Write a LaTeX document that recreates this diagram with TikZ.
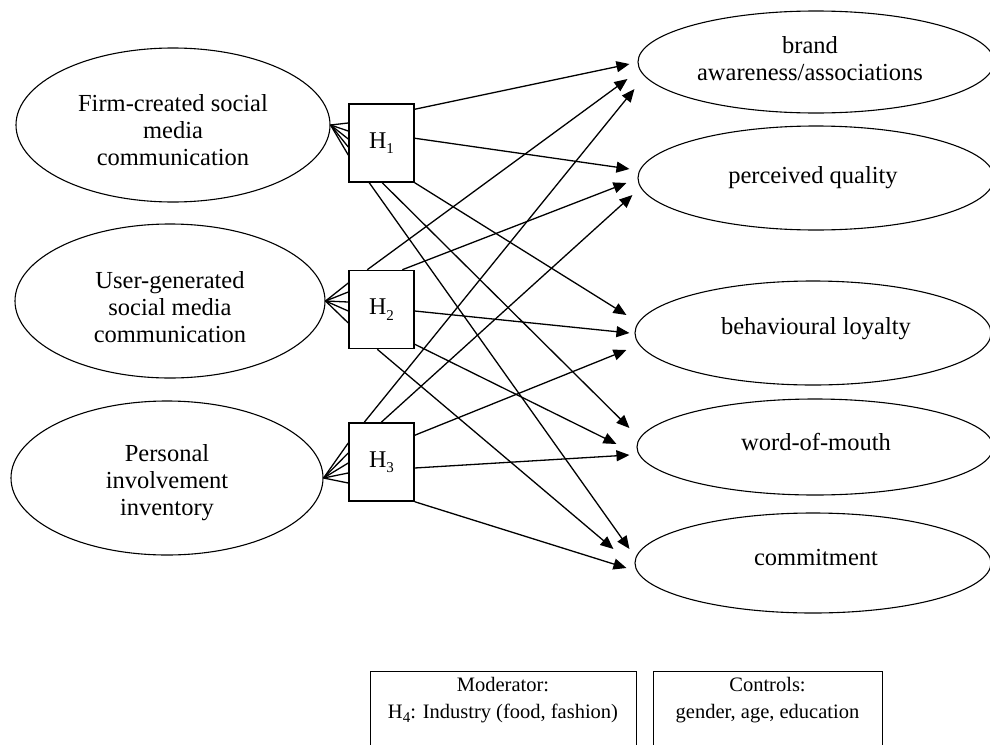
\documentclass[tikz,border=0pt]{standalone}
\usepackage{fontspec}
\setmainfont{Liberation Serif}
\usetikzlibrary{arrows.meta,shapes.geometric,calc}
\newcommand\Hsub[1]{H\raisebox{-0.22em}{\fontsize{15}{15}\selectfont #1}}
\begin{document}
\begin{tikzpicture}[x=1pt,y=-1pt,
  ell/.style={draw, ellipse, line width=1.1pt, inner sep=0pt},
  hbox/.style={draw, line width=1.5pt, minimum width=65pt, minimum height=78pt, inner sep=0pt, font=\fontsize{24}{26}\selectfont},
  lab/.style={align=center, font=\fontsize{24.5}{27}\selectfont, inner sep=0pt},
  small/.style={font=\fontsize{20.5}{27}\selectfont, inner sep=0pt, anchor=base},
  conn/.style={line width=1.3pt},
  arr/.style={line width=1.3pt, -{Triangle[length=13pt,width=11pt]}},
  note/.style={draw, line width=1.2pt, anchor=north west, inner sep=0pt}
]
\clip (0,0) rectangle (990,744);
\fill[white] (0,0) rectangle (990,744);

% left ellipses
\node[ell, minimum width=314pt, minimum height=154pt] (E1) at (173,125) {};
\node[ell, minimum width=310pt, minimum height=154pt] (E2) at (170,301) {};
\node[ell, minimum width=312pt, minimum height=154pt] (E3) at (167,478) {};
\node[lab] (E1t) at (173,130) {Firm-created social\\media\\communication};
\node[lab] (E2t) at (170,307) {User-generated\\social media\\communication};
\node[lab] (E3t) at (167,483) {Personal\\involvement\\inventory};

% right ellipses
\node[ell, minimum width=356pt, minimum height=102pt] (R1) at (816,62) {};
\node[ell, minimum width=356pt, minimum height=104pt] (R2) at (816,178) {};
\node[ell, minimum width=356pt, minimum height=104pt] (R3) at (813,333) {};
\node[ell, minimum width=356pt, minimum height=96pt] (R4) at (815,447) {};
\node[ell, minimum width=356pt, minimum height=100pt] (R5) at (813,563) {};
\node[lab] (R1t) at (810,59) {brand\\awareness/associations};
\node[lab] (R2t) at (813,178) {perceived quality};
\node[lab] (R3t) at (816,329) {behavioural loyalty};
\node[lab] (R4t) at (816,442) {word-of-mouth};
\node[lab] (R5t) at (816,558) {commitment};

% hypothesis boxes
\node[hbox] (H1) at (381.5,143) {\raisebox{3pt}{\Hsub{1}}};
\node[hbox] (H2) at (381.5,309.5) {\raisebox{3pt}{\Hsub{2}}};
\node[hbox] (H3) at (381.5,462) {\raisebox{3pt}{\Hsub{3}}};

% fans from ellipses into boxes
\foreach \d in {20,12,4,-4,-12} \draw[conn] (E1.east) -- ([yshift=\d pt]H1.west);
\foreach \d in {26.5,17.5,7.5,-1.5,-13.5} \draw[conn] (E2.east) -- ([yshift=\d pt]H2.west);
\foreach \d in {19,9,-1,-11,-21} \draw[conn] (E3.east) -- ([yshift=\d pt]H3.west);

% arrows from H1
\draw[arr] ([shift={(0,6)}]H1.north east) -- ([shift={(-8,2)}]R1.west);
\draw[arr] ([shift={(0,35)}]H1.north east) -- ([shift={(-8,-9)}]R2.west);
\draw[arr] (H1.south east) -- ([shift={(-8,-18)}]R3.west);
\draw[arr] ([shift={(34,0)}]H1.south west) -- ([shift={(-7,-19)}]R4.west);
\draw[arr] ([shift={(21,0)}]H1.south west) -- ([shift={(-5,-14)}]R5.west);
% arrows from H2
\draw[arr] ([shift={(19,0)}]H2.north west) -- ([shift={(-10,17)}]R1.west);
\draw[arr] ([shift={(54,0)}]H2.north west) -- ([shift={(-11,5)}]R2.west);
\draw[arr] ([shift={(0,1.5)}]H2.east) -- ([shift={(-5,0)}]R3.west);
\draw[arr] ([shift={(0,-5)}]H2.south east) -- ([shift={(-20,-3)}]R4.west);
\draw[arr] ([shift={(29,0)}]H2.south west) -- ([shift={(-21,-14)}]R5.west);
% arrows from H3
\draw[arr] ([shift={(16,0)}]H3.north west) -- ([shift={(-3,27)}]R1.west);
\draw[arr] ([shift={(33,0)}]H3.north west) -- ([shift={(-5,17)}]R2.west);
\draw[arr] ([shift={(0,13)}]H3.north east) -- ([shift={(-8,17)}]R3.west);
\draw[arr] ([shift={(0,6)}]H3.east) -- ([shift={(-7,8)}]R4.west);
\draw[arr] (H3.south east) -- ([shift={(-8,5)}]R5.west);

% bottom boxes
\node[note, minimum width=266pt, minimum height=100pt] (MB) at (370,671) {};
\node[note, minimum width=229pt, minimum height=100pt] (CB) at (653,671) {};
\node[small] (M1) at (503,691) {Moderator:};
\node[small] (M2) at (503,718) {\Hsub{4}: Industry (food, fashion)};
\node[small] (C1) at (767.5,691) {Controls:};
\node[small] (C2) at (767.5,718) {gender, age, education};
\end{tikzpicture}
\end{document}
